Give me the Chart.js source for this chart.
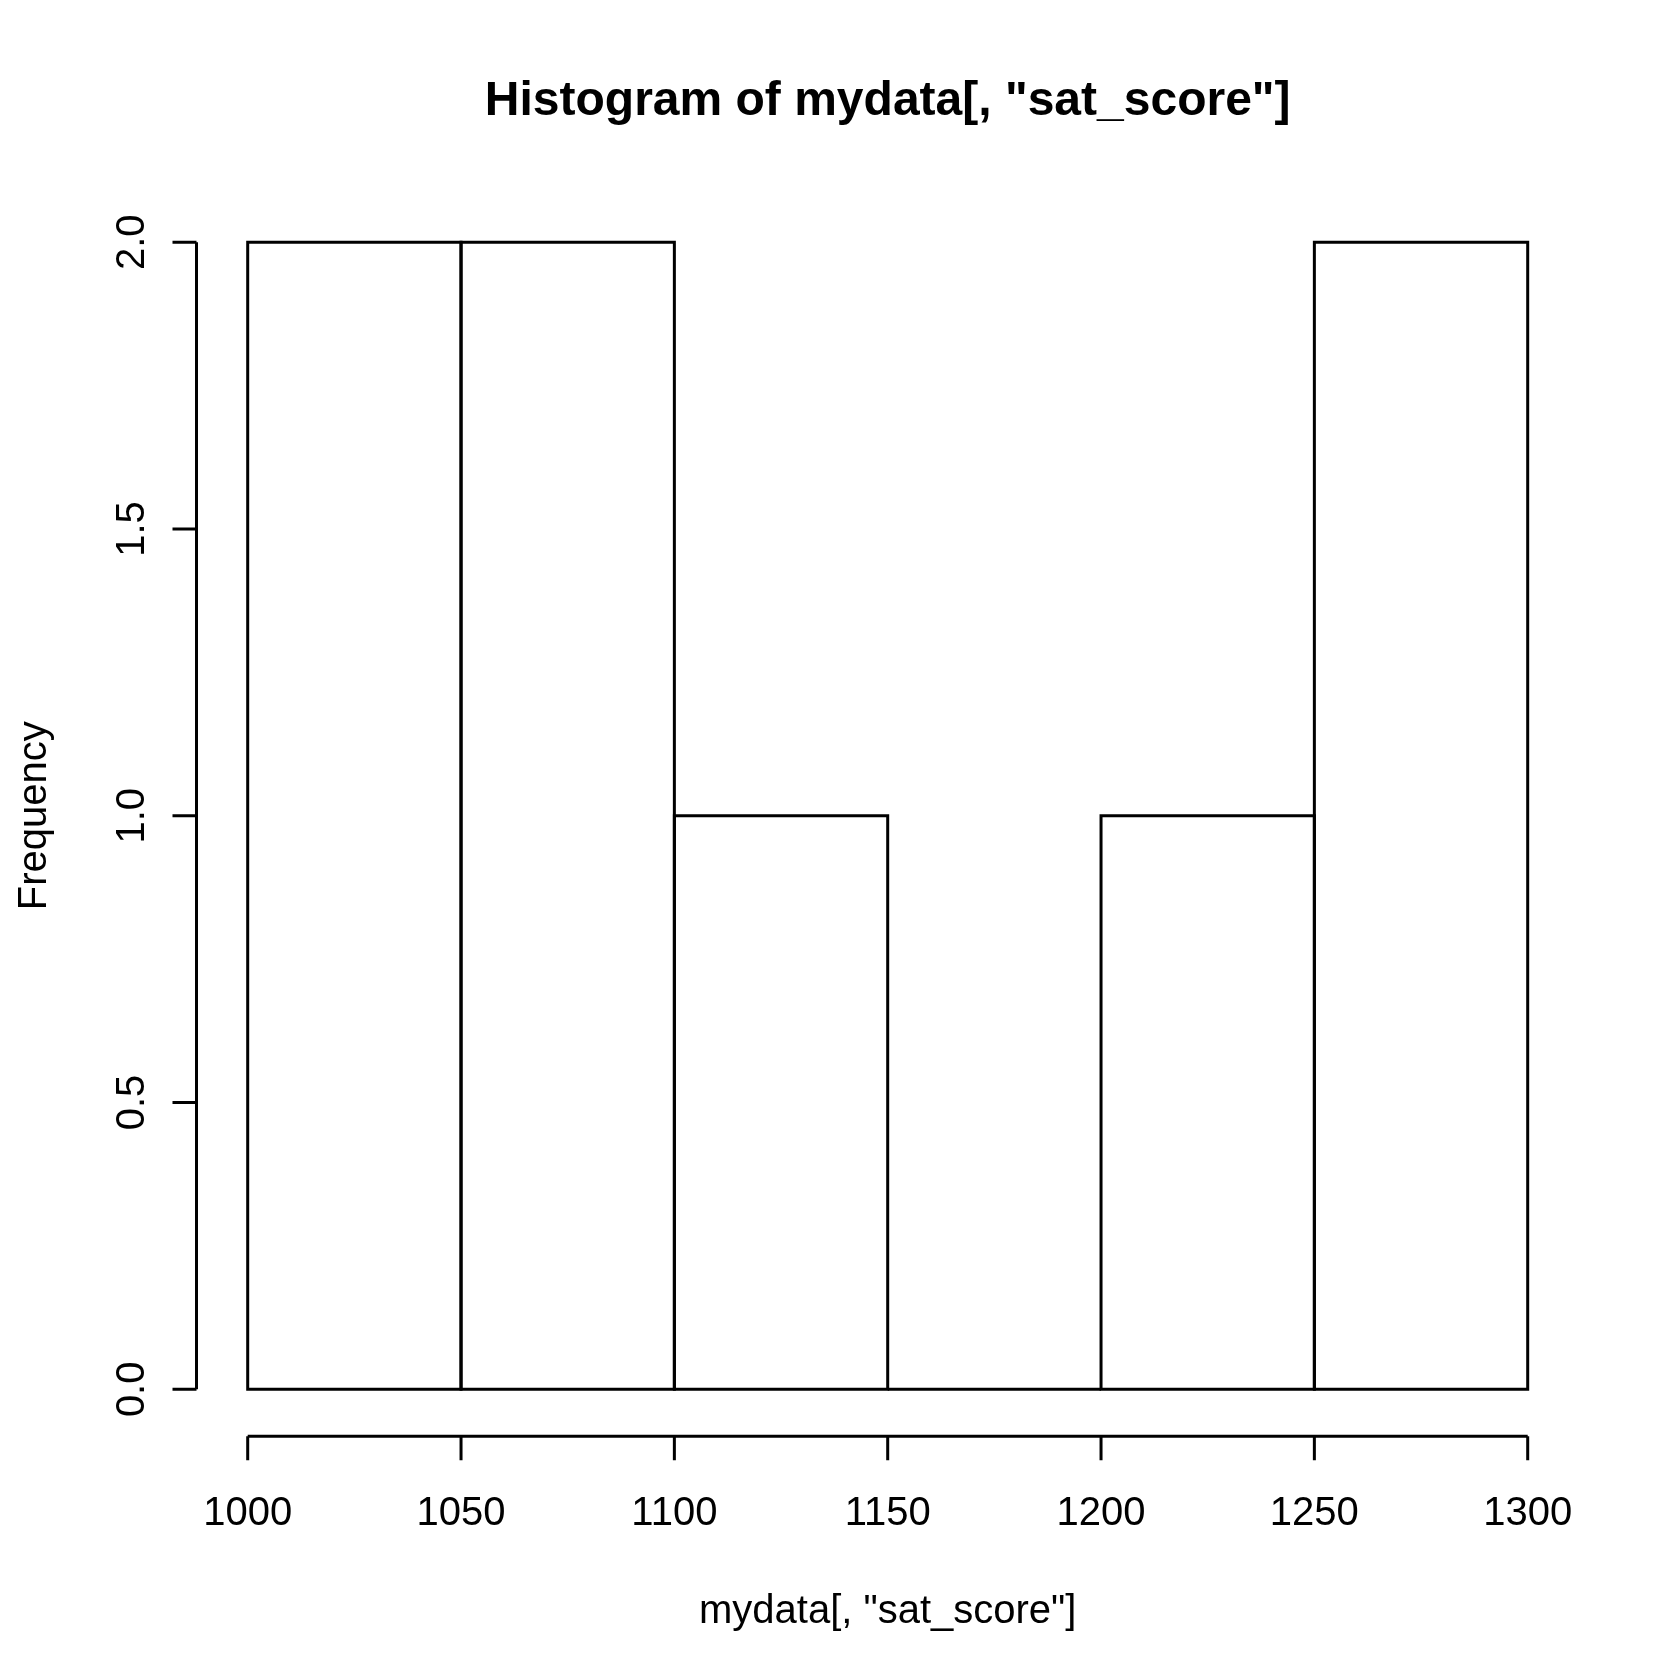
<!DOCTYPE html>
<html>
<head>
<meta charset="utf-8">
<script src="https://cdn.jsdelivr.net/npm/chart.js@4/dist/chart.umd.min.js"></script>
<style>
  html, body { margin: 0; padding: 0; background: #ffffff; }
  #wrap { width: 1680px; height: 1680px; }
</style>
</head>
<body>
<div id="wrap"><canvas id="c" width="1680" height="1680"></canvas></div>
<script>
// ---- data ----
const binStarts = [1000, 1050, 1100, 1150, 1200, 1250];
const binEnds   = [1050, 1100, 1150, 1200, 1250, 1300];
const frequencies = [2, 2, 1, 0, 1, 2];
const xTicks = [1000, 1050, 1100, 1150, 1200, 1250, 1300];
const xTickLabels = ["1000", "1050", "1100", "1150", "1200", "1250", "1300"];
const yTicks = [0, 0.5, 1, 1.5, 2];
const yTickLabels = ["0.0", "0.5", "1.0", "1.5", "2.0"];
const titleText = 'Histogram of mydata[, "sat_score"]';
const xLabelText = 'mydata[, "sat_score"]';
const yLabelText = 'Frequency';

const FONT = '"Liberation Sans", Arial, Helvetica, sans-serif';
const LW = 3;
const TICK = 24;

const points = binStarts.map((s, i) => ({ x: (s + binEnds[i]) / 2, y: frequencies[i] }));

const rPlot = {
  id: 'rPlot',
  afterDatasetsDraw(chart) {
    const ctx = chart.ctx;
    const meta = chart.getDatasetMeta(0);
    ctx.save();
    ctx.strokeStyle = '#000';
    ctx.lineWidth = LW;
    ctx.lineCap = 'butt';
    ctx.lineJoin = 'miter';
    meta.data.forEach(el => {
      const p = el.getProps(['x', 'y', 'base', 'width'], true);
      const l = p.x - p.width / 2, r = p.x + p.width / 2;
      ctx.beginPath();
      if (Math.abs(p.base - p.y) < 0.5) {
        ctx.moveTo(l, p.base); ctx.lineTo(r, p.base);
      } else {
        ctx.rect(l, p.y, r - l, p.base - p.y);
      }
      ctx.stroke();
    });
    ctx.restore();
  },
  afterDraw(chart) {
    const ctx = chart.ctx;
    const xs = chart.scales.x, ys = chart.scales.y;
    const area = chart.chartArea;
    ctx.save();
    ctx.strokeStyle = '#000';
    ctx.fillStyle = '#000';
    ctx.lineWidth = LW;
    ctx.lineCap = 'butt';

    // x axis
    const xAxisY = area.bottom + 1;
    const x0 = xs.getPixelForValue(xTicks[0]);
    const x1 = xs.getPixelForValue(xTicks[xTicks.length - 1]);
    ctx.beginPath();
    ctx.moveTo(x0, xAxisY); ctx.lineTo(x1, xAxisY);
    xTicks.forEach(v => {
      const px = xs.getPixelForValue(v);
      ctx.moveTo(px, xAxisY); ctx.lineTo(px, xAxisY + TICK);
    });
    ctx.stroke();
    ctx.font = '40px ' + FONT;
    ctx.textAlign = 'center';
    ctx.textBaseline = 'alphabetic';
    xTicks.forEach((v, i) => {
      ctx.fillText(xTickLabels[i], xs.getPixelForValue(v), 1525);
    });

    // y axis
    const yAxisX = area.left;
    const yb = ys.getPixelForValue(yTicks[0]);
    const yt = ys.getPixelForValue(yTicks[yTicks.length - 1]);
    ctx.beginPath();
    ctx.moveTo(yAxisX, yb); ctx.lineTo(yAxisX, yt);
    yTicks.forEach(v => {
      const py = ys.getPixelForValue(v);
      ctx.moveTo(yAxisX, py); ctx.lineTo(yAxisX - TICK, py);
    });
    ctx.stroke();
    yTicks.forEach((v, i) => {
      const py = ys.getPixelForValue(v);
      ctx.save();
      ctx.translate(144, py);
      ctx.rotate(-Math.PI / 2);
      ctx.textAlign = 'center';
      ctx.textBaseline = 'alphabetic';
      ctx.fillText(yTickLabels[i], 0, 0);
      ctx.restore();
    });

    // titles
    const cx = (area.left + area.right) / 2;
    const cy = (area.top + area.bottom) / 2;
    ctx.font = 'bold 48px ' + FONT;
    ctx.textAlign = 'center';
    ctx.fillText(titleText, cx, 115);
    ctx.font = '40px ' + FONT;
    ctx.fillText(xLabelText, cx, 1623);
    ctx.save();
    ctx.translate(46, cy);
    ctx.rotate(-Math.PI / 2);
    ctx.fillText(yLabelText, 0, 0);
    ctx.restore();
    ctx.restore();
  }
};

new Chart(document.getElementById('c'), {
  type: 'bar',
  data: {
    datasets: [{
      data: points,
      backgroundColor: 'rgba(255,255,255,0)',
      borderWidth: 0,
      barPercentage: 1,
      categoryPercentage: 1
    }]
  },
  options: {
    responsive: false,
    animation: false,
    devicePixelRatio: 1,
    layout: { padding: { left: 196.5, right: 101.1, top: 196.4, bottom: 244.8 } },
    plugins: { legend: { display: false }, title: { display: false }, tooltip: { enabled: false } },
    scales: {
      x: {
        type: 'linear', min: 988, max: 1312, display: false, offset: false,
        afterBuildTicks: (s) => { s.ticks = xTicks.map(v => ({ value: v })); }
      },
      y: { type: 'linear', min: -0.08, max: 2.08, display: false }
    }
  },
  plugins: [rPlot]
});
</script>
</body>
</html>
